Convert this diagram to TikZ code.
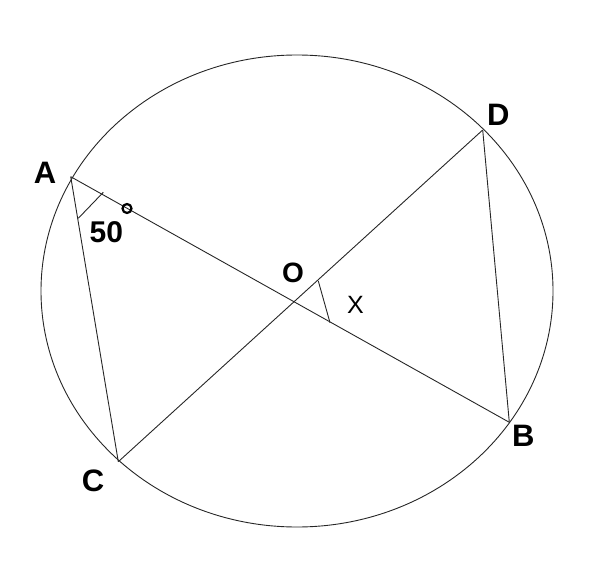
\documentclass[tikz,border=0pt]{standalone}
\usepackage{fontspec}
\usetikzlibrary{shapes.geometric}
\setmainfont{Liberation Sans}
\begin{document}
\begin{tikzpicture}[x=1pt,y=-1pt,
  geo/.style={line width=0.9pt,draw=black!85},
  lbl/.style={inner sep=0pt,font=\fontsize{31}{33}\selectfont\bfseries},
  num/.style={inner sep=0pt,font=\fontsize{30}{32}\selectfont\bfseries}]
\useasboundingbox (0,0) rectangle (593,569);
\coordinate (A) at (70.7,176.7);
\coordinate (B) at (509.3,422.3);
\coordinate (C) at (118.3,461.7);
\coordinate (D) at (482.7,130);
\coordinate (O) at (intersection of A--B and C--D);
\node[geo,ellipse,minimum width=512pt,minimum height=472pt,inner sep=0pt,draw] (circ) at (297,291) {};
\draw[geo] (A) -- (B);
\draw[geo] (C) -- (D);
\draw[geo] (A) -- (C);
\draw[geo] (D) -- (B);
\coordinate (a1) at (103.3,192.3);
\coordinate (a2) at (78.3,218.3);
\draw[geo] (a1) -- (a2);
\coordinate (x1) at (318.3,281);
\coordinate (x2) at (330,322.7);
\draw[geo] (x1) -- (x2);
\node[draw=black,line width=2.2pt,circle,minimum size=9pt,inner sep=0pt] (deg) at (127,208.5) {};
\node[lbl] (lA) at (45,173) {A};
\node[lbl] (lD) at (498.3,114.7) {D};
\node[lbl] (lB) at (523.3,435.8) {B};
\node[lbl] (lC) at (93,480.7) {C};
\node[lbl,font=\fontsize{28}{30}\selectfont\bfseries] (lO) at (293,273.3) {O};
\node[num,font=\fontsize{25}{27}\selectfont] (lX) at (355.5,305) {X};
\node[num] (l50) at (106.3,232.5) {50};
\end{tikzpicture}
\end{document}
